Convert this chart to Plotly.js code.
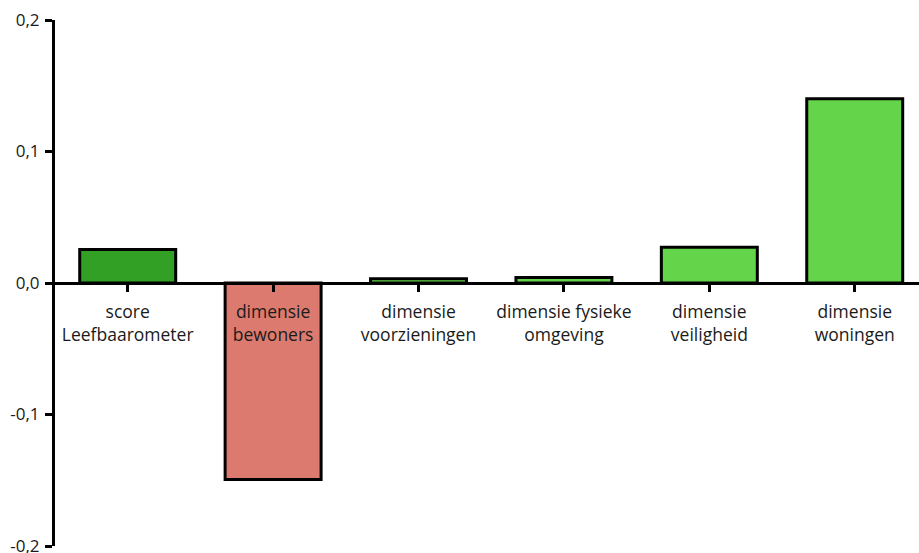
<!DOCTYPE html>
<html>
<head>
<meta charset="utf-8">
<script src="https://cdn.plot.ly/plotly-3.0.1.min.js"></script>
<style>html,body{margin:0;padding:0;background:#fff;}#chart{width:919px;height:553px;}</style>
</head>
<body>
<div id="chart"></div>
<script>
var categories = ["score<br>Leefbaarometer", "dimensie<br>bewoners", "dimensie<br>voorzieningen", "dimensie fysieke<br>omgeving", "dimensie<br>veiligheid", "dimensie<br>woningen"];
var values = [0.0255, -0.1495, 0.0032, 0.0042, 0.0272, 0.1401];
var barColors = ["#31a024", "#dd7a6f", "#64d44a", "#64d44a", "#64d44a", "#64d44a"];
var yTickVals = [-0.2, -0.1, 0, 0.1, 0.2];
var yTickText = ["-0,2", "-0,1", "0,0", "0,1", "0,2"];

var trace = {
  type: "bar",
  x: [0, 1, 2, 3, 4, 5],
  y: values,
  width: 0.66,
  marker: { color: barColors, line: { color: "#000", width: 3 } },
  hoverinfo: "none"
};

var layout = {
  width: 919, height: 553,
  margin: { l: 55, r: 0, t: 20, b: 7 },
  paper_bgcolor: "#fff", plot_bgcolor: "#fff",
  showlegend: false,
  font: { family: "Open Sans, sans-serif", size: 17, color: "#1a1a1a" },
  xaxis: {
    range: [-0.5, 5.442],
    tickmode: "array",
    tickvals: [0, 1, 2, 3, 4, 5],
    ticktext: categories,
    tickson: "boundaries",
    ticks: "outside", ticklen: 7, tickwidth: 3, tickcolor: "#000",
    showline: true, linecolor: "#000", linewidth: 3,
    showgrid: false, zeroline: false,
    anchor: "free", position: 0.5,
    ticklabelstandoff: 5,
    tickfont: { size: 17.5, color: "#1a1a1a" },
    fixedrange: true
  },
  yaxis: {
    range: [-0.2, 0.2],
    tickmode: "array",
    tickvals: yTickVals,
    ticktext: yTickText,
    ticks: "outside", ticklen: 7, tickwidth: 3, tickcolor: "#000",
    showline: true, linecolor: "#000", linewidth: 3,
    showgrid: false, zeroline: false,
    ticklabeloverflow: "allow",
    ticklabelstandoff: 2,
    tickfont: { size: 17, color: "#1a1a1a" },
    fixedrange: true
  }
};

Plotly.newPlot("chart", [trace], layout, { displayModeBar: false, staticPlot: true });
</script>
</body>
</html>
